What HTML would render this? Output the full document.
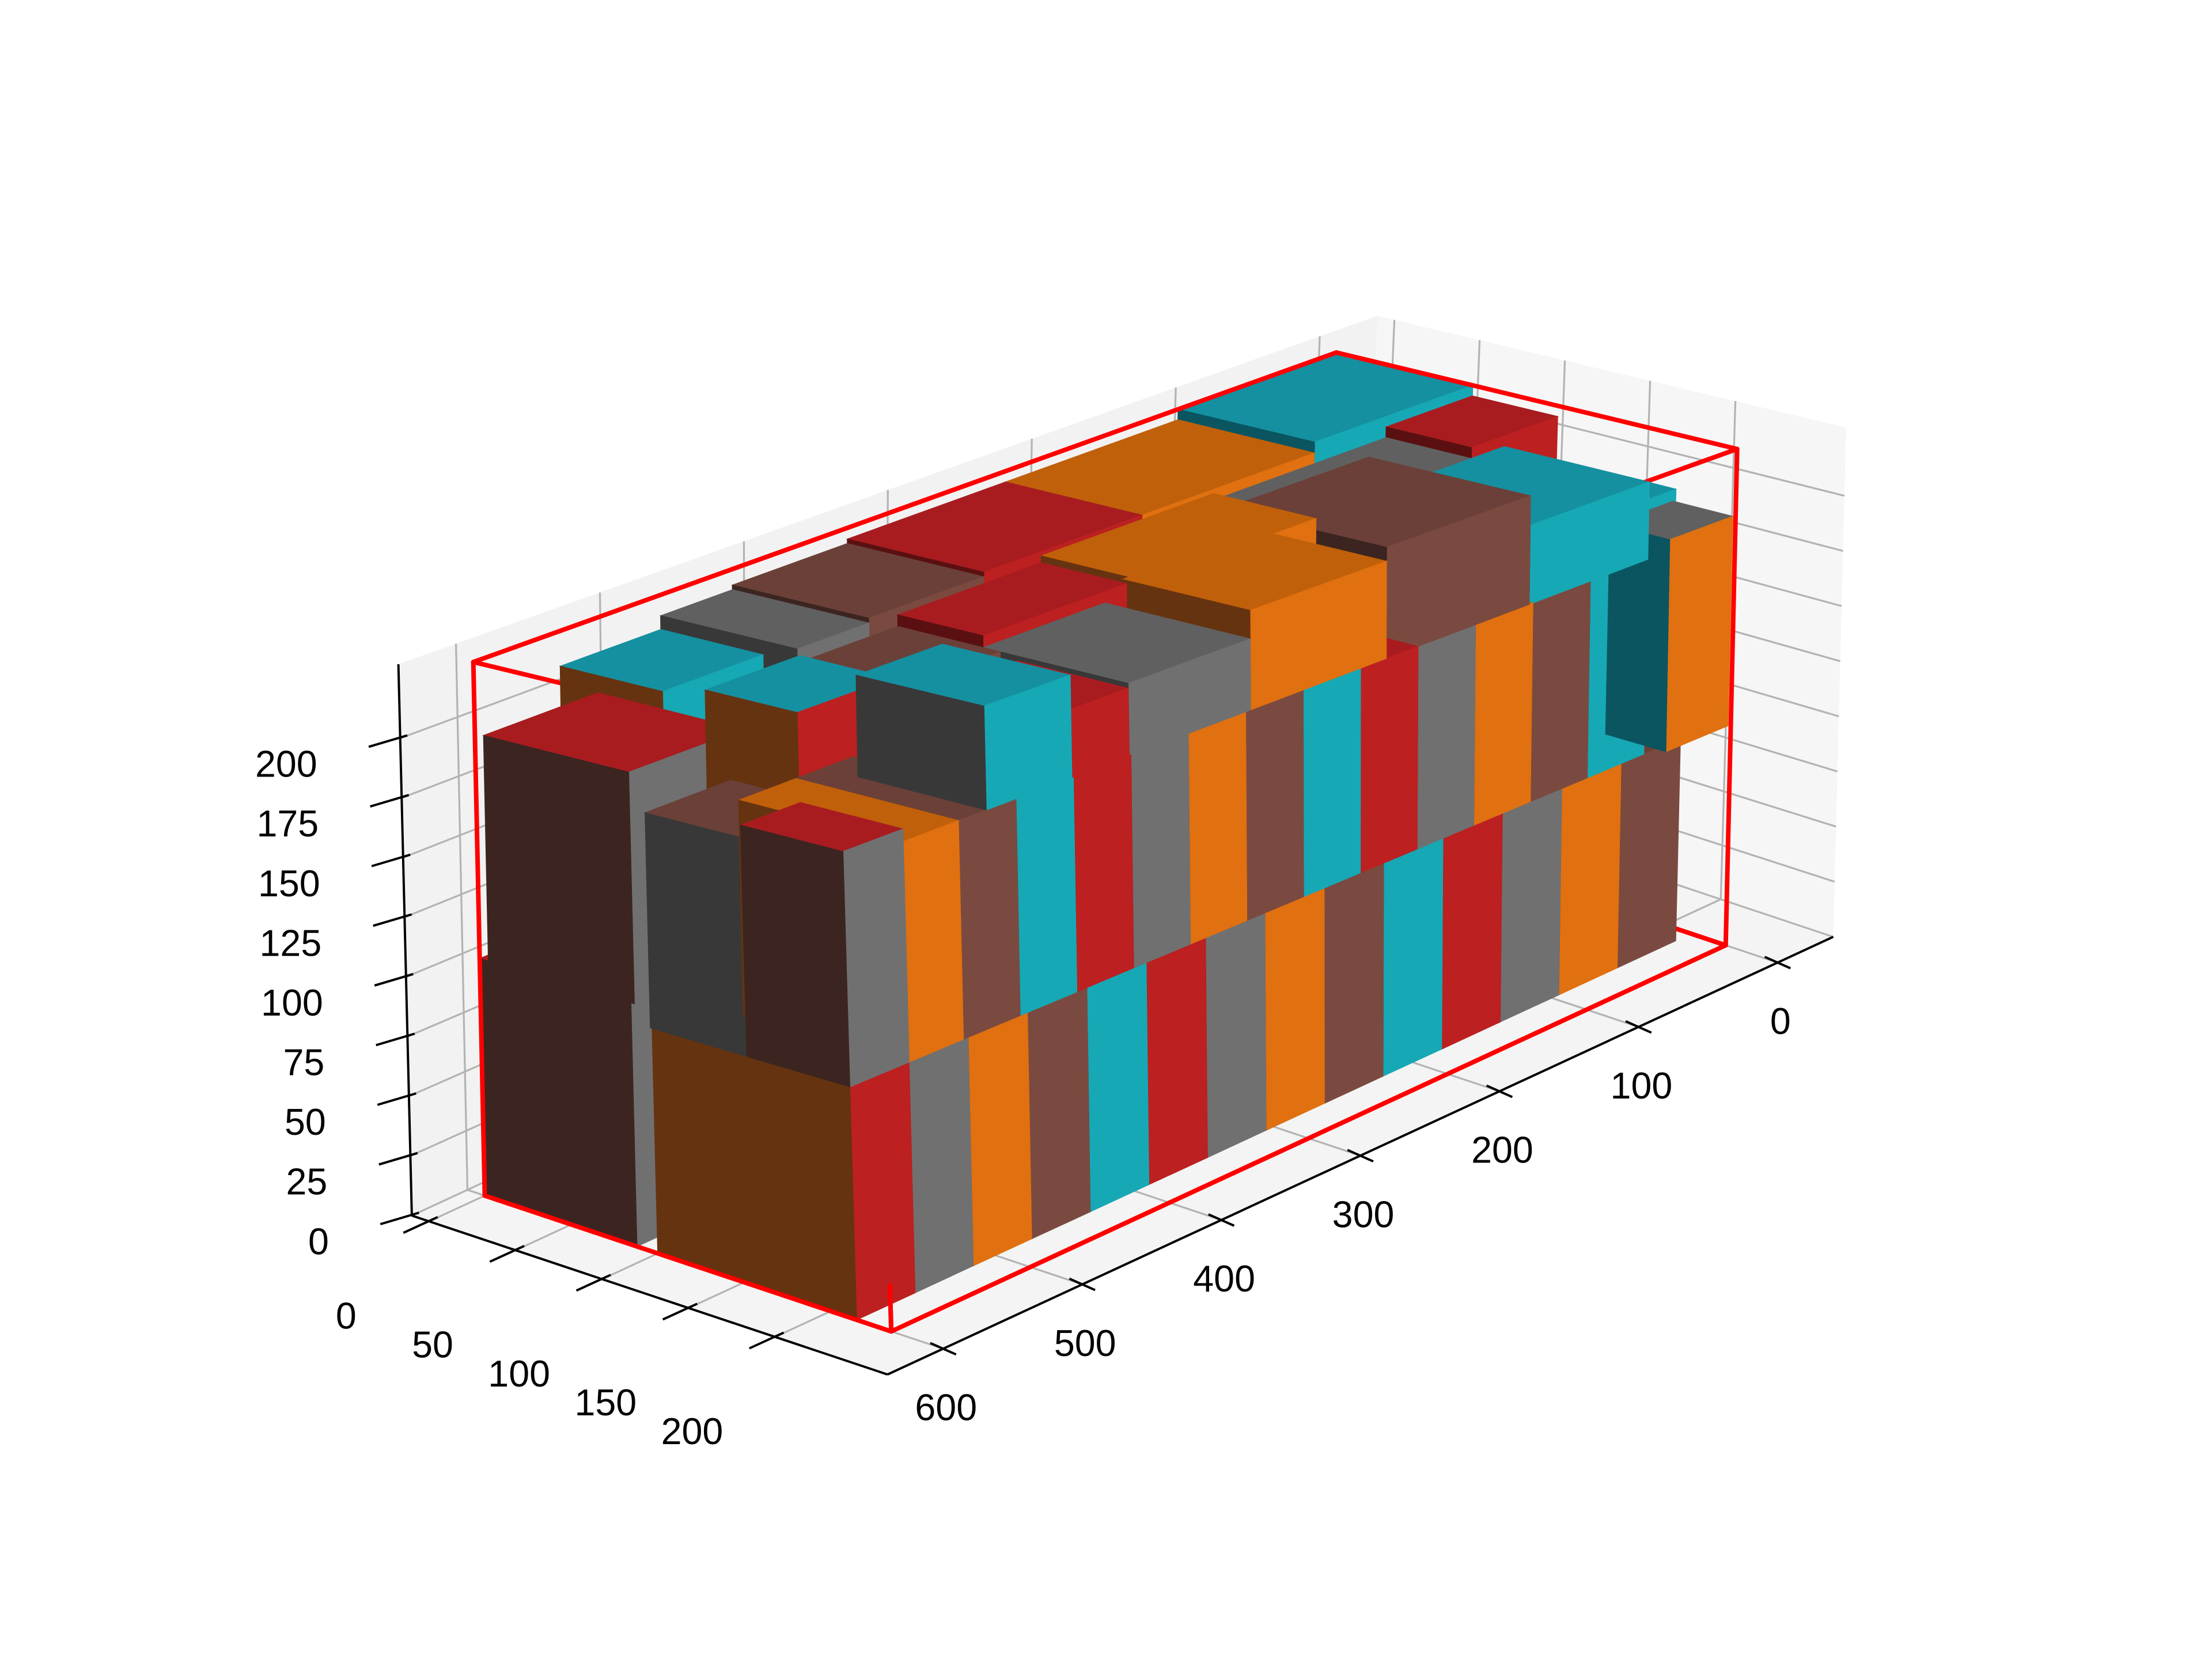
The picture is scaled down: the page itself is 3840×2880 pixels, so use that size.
<!DOCTYPE html>
<html><head><meta charset="utf-8"><style>
html,body{margin:0;padding:0;background:#fff;}
svg{display:block;}
text{font-family:"Liberation Sans",sans-serif;font-size:26px;fill:#000;}
</style></head><body>
<svg id="chart" xmlns="http://www.w3.org/2000/svg" width="3840" height="2880" viewBox="0 0 1546 1160" preserveAspectRatio="none">
<g id="panes"></g>
<g id="grid"></g>
<g id="axes"></g>
<g id="cback"></g>
<g id="boxes"></g>
<g id="cfront"></g>
</svg>
<script>
// ---- data ----
const containerDims = [600, 235, 225];
const xTicks = [0, 100, 200, 300, 400, 500, 600];
const yTicks = [0, 50, 100, 150, 200];
const zTicks = [0, 25, 50, 75, 100, 125, 150, 175, 200];
const boxX  = [11,53.1,95.2,137.3,179.4,221.5,263.6,305.7,347.8,389.9,432,474.1,516.2,558, 520,
               37,77.2,117.4,157.6,197.8,238,278.2,318.4,358.6,398.8,439,479.2,519.4,
               520,540,558,0,2,
               37,120,220,315,400,440,474,
               0,110,230,340,420,470,
               0,60,180,300,400];
const boxY  = [120,120,120,120,120,120,120,120,120,120,120,120,120,100, 0,
               120,120,120,120,120,120,120,120,120,120,120,120,120,
               5,99,155,150,200,
               130,120,140,130,150,140,85,
               0,0,0,0,0,0,
               80,80,80,80,80];
const boxZ  = [0,0,0,0,0,0,0,0,0,0,0,0,0,0, 0,
               92,92,92,92,92,92,92,92,92,92,92,92,92,
               100,92,92,92,100,
               180,180,180,180,180,180,150,
               180,180,180,180,180,170,
               180,180,180,180,180];
const boxDX = [42.1,42.1,42.1,42.1,42.1,42.1,42.1,42.1,42.1,42.1,42.1,42.1,42.1,42, 80,
               40.2,40.2,40.2,40.2,40.2,40.2,40.2,40.2,40.2,40.2,40.2,40.2,40.2,
               80,60,42,40,44,
               83,100,95,85,40,60,66,
               110,120,110,80,50,70,
               60,120,120,100,74];
const boxDY = [95,95,95,95,95,95,95,95,95,95,95,95,95,115, 88,
               95,95,95,95,95,95,95,95,95,95,95,95,95,
               85,56,60,50,35,
               85,95,75,85,65,75,54,
               80,80,80,80,80,60,
               50,50,60,50,60];
const boxDZ = [92,92,92,92,92,92,92,92,92,92,92,92,92,95, 100,
               88,88,88,88,88,88,88,88,88,88,88,88,88,
               95,88,93,108,95,
               35,48,42,30,28,42,65,
               45,40,40,38,36,40,
               40,35,38,35,30];
const boxKind = ['brown','orange','gray','red','cyan','brown','orange','gray','red','cyan','brown','orange','gray','ro','rb',
                 'cyan','brown','orange','gray','red','cyan','brown','orange','gray','red','cyan','brown','orange',
                 'rb','gb','rb','cyan','ot',
                 'cyan','brown','orange','gray','red','cg','ocr',
                 'cyan','orange','red','brown','gray','cyo',
                 'red','gray','orange','red','brown'];
const palette = {
  brown:{top:'#6b4038',front:'#7a4a40',side:'#3c2520'},
  orange:{top:'#c0600a',front:'#e07010',side:'#663310'},
  gray:{top:'#606060',front:'#707070',side:'#383838'},
  red:{top:'#a81c20',front:'#bc2020',side:'#5a1010'},
  cyan:{top:'#1590a0',front:'#17a8b5',side:'#0a5560'},
  ro:{top:'#a81c20',front:'#bc2020',side:'#663310'},
  rb:{top:'#a81c20',front:'#707070',side:'#3c2520'},
  gb:{top:'#6b4038',front:'#707070',side:'#383838'},
  ot:{top:'#606060',front:'#e07010',side:'#0a5560'},
  cg:{top:'#1590a0',front:'#17a8b5',side:'#383838'},
  ocr:{top:'#1590a0',front:'#bc2020',side:'#663310'},
  cyo:{top:'#1590a0',front:'#17a8b5',side:'#663310'}
};
const xLim = [-40, 640], yLim = [-10, 265], zLim = [0, 231];

// ---- projection ----
function P(x, y, z) {
  const kz = 1.42 + 0.000397 * x + 0.00052 * y;
  const sx = (12 - 0.0333 * x - 0.017 * y) / 225;
  return [922 - 0.972 * x + 1.209 * y + sx * z, 566 + 0.45 * x + 0.404 * y - kz * z];
}
const NS = 'http://www.w3.org/2000/svg';
function mk(tag, attrs, parent) {
  const e = document.createElementNS(NS, tag);
  for (const k in attrs) e.setAttribute(k, attrs[k]);
  parent.appendChild(e);
  return e;
}
function pts(arr) { return arr.map(p => p[0].toFixed(1) + ',' + p[1].toFixed(1)).join(' '); }

// ---- panes ----
const gP = document.getElementById('panes');
const [x0, x1] = xLim, [y0, y1] = yLim, [z0, z1] = zLim;
let e;
e = mk('polygon', {points: pts([P(x0,y0,z0),P(x1,y0,z0),P(x1,y0,z1),P(x0,y0,z1)]), fill:'#f2f2f2'}, gP);


e = mk('polygon', {points: pts([P(x0,y0,z0),P(x0,y1,z0),P(x0,y1,z1),P(x0,y0,z1)]), fill:'#f6f6f6'}, gP);


e = mk('polygon', {points: pts([P(x0,y0,z0),P(x1,y0,z0),P(x1,y1,z0),P(x0,y1,z0)]), fill:'#f4f4f4'}, gP);



// ---- grid ----
const gG = document.getElementById('grid');
function gl(a, b, name) {
  const l = mk('line', {x1:a[0], y1:a[1], x2:b[0], y2:b[1], stroke:'#b3b3b3', 'stroke-width':1.3}, gG);
  
  
}
xTicks.forEach(v => { gl(P(v,y0,z0), P(v,y0,z1), 'x-gridline'); gl(P(v,y0,z0), P(v,y1,z0), 'x-gridline'); });
yTicks.forEach(v => { gl(P(x0,v,z0), P(x0,v,z1), 'y-gridline'); gl(P(x0,v,z0), P(x1,v,z0), 'y-gridline'); });
zTicks.forEach(v => { gl(P(x0,y0,v), P(x1,y0,v), 'z-gridline'); gl(P(x0,y0,v), P(x0,y1,v), 'z-gridline'); });

// ---- axes ----
const gA = document.getElementById('axes');
function al(a, b, name) {
  const l = mk('line', {x1:a[0], y1:a[1], x2:b[0], y2:b[1], stroke:'#000', 'stroke-width':1.6}, gA);
  
  
}
al(P(x0,y1,z0), P(x1,y1,z0), 'x-axis-line');
al(P(x1,y0,z0), P(x1,y1,z0), 'y-axis-line');
al(P(x1,y0,z0), P(x1,y0,z1), 'z-axis-line');
xTicks.forEach(v => {
  const p = P(v,y1,z0);
  al([p[0]-9,p[1]-4], [p[0]+9,p[1]+4], 'x-tick');
  const t = mk('text', {x:p[0]+2, y:p[1]+50, 'text-anchor':'middle'}, gA);
  t.textContent = v;
  
  
});
yTicks.forEach(v => {
  const p = P(x1,v,z0);
  al([p[0]-18,p[1]+8], [p[0]+6,p[1]-3], 'y-tick');
  const t = mk('text', {x:p[0]-58, y:p[1]+75, 'text-anchor':'middle'}, gA);
  t.textContent = v;
  
  
});
zTicks.forEach(v => {
  const p = P(x1,y0,v);
  al([p[0]-22,p[1]+6], [p[0]+5,p[1]-2], 'z-tick');
  const t = mk('text', {x:p[0]-58, y:p[1]+27, 'text-anchor':'end'}, gA);
  t.textContent = v;
  
  
});

// ---- container ----
const [CL, CW, CH] = containerDims;
function cl(g, a, b, name) {
  const l = mk('line', {x1:a[0], y1:a[1], x2:b[0], y2:b[1], stroke:'#ff0000', 'stroke-width':3.2, 'stroke-linecap':'round'}, g);
  
  
}
const gCB = document.getElementById('cback'), gCF = document.getElementById('cfront');
cl(gCB, P(0,0,0), P(CL,0,0), 'container-edge');
cl(gCB, P(0,0,0), P(0,CW,0), 'container-edge');
cl(gCB, P(0,0,0), P(0,0,CH), 'container-edge');
cl(gCB, P(CL,0,CH), P(CL,CW,CH), 'container-edge');
cl(gCB, P(0,CW,CH), P(CL,CW,CH), 'container-edge');
cl(gCB, P(CL,CW,0), P(CL,CW,CH), 'container-edge');
cl(gCF, P(CL,0,0), P(CL,CW,0), 'container-edge');
cl(gCF, P(CL,CW,0), P(0,CW,0), 'container-edge');
cl(gCF, P(CL,0,0), P(CL,0,CH), 'container-edge');
cl(gCF, P(0,CW,0), P(0,CW,CH), 'container-edge');
cl(gCF, P(CL,0,CH), P(0,0,CH), 'container-edge');
cl(gCF, P(0,0,CH), P(0,CW,CH), 'container-edge');
cl(gCF, P(CL,CW,0), P(CL,CW,18), 'container-edge');

// ---- boxes ----
const gB = document.getElementById('boxes');
const order = boxX.map((_, i) => i).sort((a, b) => {
  const da = boxX[a]+boxDX[a]/2 + boxY[a]+boxDY[a]/2 + 0.6*(boxZ[a]+boxDZ[a]/2);
  const db = boxX[b]+boxDX[b]/2 + boxY[b]+boxDY[b]/2 + 0.6*(boxZ[b]+boxDZ[b]/2);
  return da - db;
});
order.forEach(i => {
  const x = boxX[i], y = boxY[i], z = boxZ[i], X = x + boxDX[i], Y = y + boxDY[i], Z = z + boxDZ[i];
  const c = palette[boxKind[i]];
  const g = mk('g', {}, gB);
  
  
  const top = mk('polygon', {points: pts([P(x,y,Z),P(X,y,Z),P(X,Y,Z),P(x,Y,Z)]), fill:c.top, stroke:c.top, 'stroke-width':0.5}, g);
  
  
  const fr = mk('polygon', {points: pts([P(x,Y,z),P(X,Y,z),P(X,Y,Z),P(x,Y,Z)]), fill:c.front, stroke:c.front, 'stroke-width':0.5}, g);
  
  
  const sd = mk('polygon', {points: pts([P(X,y,z),P(X,Y,z),P(X,Y,Z),P(X,y,Z)]), fill:c.side, stroke:c.side, 'stroke-width':0.5}, g);
  
  
});
</script>
</body></html>
